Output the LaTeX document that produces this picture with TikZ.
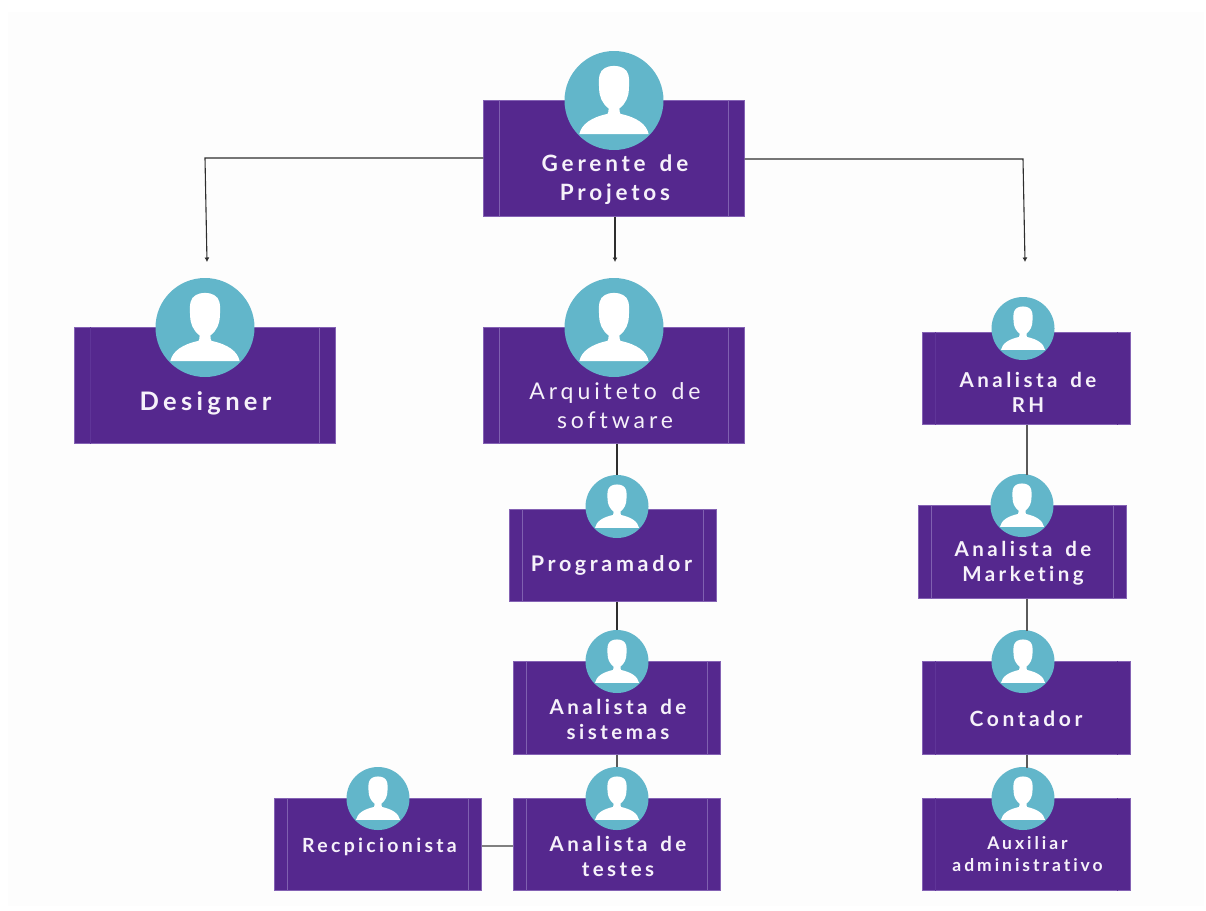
\documentclass[tikz,border=0pt]{standalone}
\usepackage{fontspec}
\usetikzlibrary{arrows.meta,calc}
\newfontfamily\lato[LetterSpace=17,WordSpace=1.5,Ligatures=NoCommon]{Lato}
\definecolor{cardfill}{HTML}{55288E}
\definecolor{cardline}{HTML}{8462B4}
\definecolor{stripeA}{HTML}{8060B0}
\definecolor{stripeB}{HTML}{5F3598}
\definecolor{disc}{HTML}{62B6CA}
\definecolor{page}{HTML}{FDFDFD}
\definecolor{label}{HTML}{F6F1FA}
\definecolor{wire}{HTML}{2E2E2E}
\definecolor{wiresoft}{HTML}{5A5A5A}
\tikzset{
  x=1pt,y=-1pt,
  cardbox/.style={draw=cardline,line width=0.7pt,fill=cardfill,inner sep=0pt,outer sep=0pt,rectangle},
  discnode/.style={fill=disc,circle,inner sep=0pt,outer sep=0pt},
  cardtext/.style={text=label,align=center,inner sep=0pt},
  wirearrow/.style={wire,line width=1.1pt,-{Latex[length=4.5pt,width=5pt]}},
  wirelink/.style={wiresoft,line width=1.4pt},
}
% \card{name}{x1}{y1}{x2}{y2}{discx}{discy}{r}{inset}; stripes coloured by \stripeleft and \striperight
\newcommand{\stripeleft}{stripeA}
\newcommand{\striperight}{stripeA}
\newcommand{\card}[9]{%
  \pgfmathsetmacro{\cw}{#4-#2-0.7}\pgfmathsetmacro{\ch}{#5-#3-0.7}%
  \node[cardbox,minimum width=\cw pt,minimum height=\ch pt] (#1) at ({(#2+#4)/2},{(#3+#5)/2}) {};
  \draw[\stripeleft,line width=0.6pt] ($(#1.north west)+(#9,0)$) -- ($(#1.south west)+(#9,0)$);
  \draw[\striperight,line width=0.6pt] ($(#1.north east)+(-#9,0)$) -- ($(#1.south east)+(-#9,0)$);
  \pgfmathsetmacro{\dd}{2*#8}%
  \node[discnode,minimum size=\dd pt] (#1disc) at (#6,#7) {};
  \begin{scope}[shift={(#6,#7)},x=#8pt,y=-#8pt]
    \fill[white] (-0.70,0.68) .. controls (-0.66,0.48) and (-0.46,0.34) .. (-0.13,0.27)
      .. controls (-0.11,0.25) and (-0.11,0.20) .. (-0.11,0.16)
      .. controls (-0.24,0.06) and (-0.30,-0.08) .. (-0.30,-0.24)
      .. controls (-0.31,-0.36) and (-0.31,-0.44) .. (-0.29,-0.52)
      .. controls (-0.26,-0.64) and (-0.14,-0.70) .. (0,-0.70)
      .. controls (0.14,-0.70) and (0.26,-0.64) .. (0.29,-0.52)
      .. controls (0.31,-0.44) and (0.31,-0.36) .. (0.30,-0.24)
      .. controls (0.30,-0.08) and (0.24,0.06) .. (0.11,0.16)
      .. controls (0.11,0.20) and (0.11,0.25) .. (0.13,0.27)
      .. controls (0.46,0.34) and (0.66,0.48) .. (0.70,0.68) -- cycle;
  \end{scope}
}
\begin{document}
\begin{tikzpicture}
\useasboundingbox (0,0) rectangle (1206,910);
\fill[white] (0,0) rectangle (1206,910);
\fill[page] (8,12) rectangle (1204,906);

\coordinate (railC) at (617,0);
\coordinate (railR) at (1027,0);
\coordinate (elbowL) at (205,158);
\coordinate (endL) at (207,262);
\coordinate (elbowR) at (1023,159);
\coordinate (endR) at (1025,262);
\coordinate (endC) at (615,262);
\coordinate (linkY) at (0,846);

\card{gerente}{483}{100}{745}{217}{614}{100.5}{49.5}{16}
\renewcommand{\stripeleft}{stripeB}
\card{designer}{74}{327}{336}{444}{205}{327.5}{49.5}{16}
\renewcommand{\stripeleft}{stripeA}
\card{arquiteto}{483}{327}{745}{444}{614}{327.5}{49.5}{16}
\renewcommand{\stripeleft}{stripeB}\renewcommand{\striperight}{cardfill}
\card{rh}{922}{332}{1131}{425}{1023}{328.5}{31.5}{13}
\renewcommand{\stripeleft}{stripeA}\renewcommand{\striperight}{stripeA}
\card{marketing}{918}{505}{1127}{599}{1022}{505.5}{31.5}{13}
\renewcommand{\stripeleft}{stripeB}\renewcommand{\striperight}{cardfill}
\card{contador}{922}{661}{1131}{755}{1023}{661.5}{31.5}{13}
\card{auxiliar}{922}{798}{1131}{891}{1023}{798.5}{31.5}{13}
\renewcommand{\stripeleft}{stripeA}\renewcommand{\striperight}{stripeA}
\card{programador}{509}{509}{717}{602}{617}{506.5}{31.5}{13}
\card{sistemas}{513}{661}{721}{755}{617}{661.5}{31.5}{13}
\card{testes}{513}{798}{721}{891}{617}{798.5}{31.5}{13}
\card{recep}{274}{798}{482}{891}{378}{798.5}{31.5}{13}

\node[cardtext,font=\lato\bfseries\fontsize{22.5}{29}\selectfont] (tgerente) at (615,180) {Gerente de\\Projetos};
\node[cardtext,font=\lato\bfseries\fontsize{25.5}{30}\selectfont] (tdesigner) at (205.5,403) {Designer};
\node[cardtext,font=\lato\fontsize{23}{29}\selectfont] (tarquiteto) at (615,406) {Arquiteto de\\software};
\node[cardtext,font=\lato\bfseries\fontsize{20.5}{25}\selectfont] (trh) at (1028,392) {Analista de\\RH};
\node[cardtext,font=\lato\bfseries\fontsize{20.5}{25}\selectfont] (tmarketing) at (1023,563) {Analista de\\Marketing};
\node[cardtext,font=\lato\bfseries\fontsize{21}{25}\selectfont] (tcontador) at (1026,719) {Contador};
\node[cardtext,font=\lato\bfseries\fontsize{17.5}{22}\selectfont] (tauxiliar) at (1027.5,854) {Auxiliar\\administrativo};
\node[cardtext,font=\lato\bfseries\fontsize{21.5}{25}\selectfont] (tprogramador) at (611.5,565) {Programador};
\node[cardtext,font=\lato\bfseries\fontsize{20.5}{25}\selectfont] (tsistemas) at (618,719) {Analista de\\sistemas};
\node[cardtext,font=\lato\bfseries\fontsize{20.5}{25}\selectfont] (ttestes) at (618,856) {Analista de\\testes};
\node[cardtext,font=\lato\bfseries\fontsize{19.5}{25}\selectfont] (trecep) at (379.5,847) {Recpicionista};

\draw[wirearrow] (gerente.west |- elbowL) -- (elbowL) -- (endL);
\draw[wirearrow] (gerente.east |- elbowR) -- (elbowR) -- (endR);
\draw[wirearrow] (gerente.south -| endC) -- (endC);
\draw[wire,line width=1.3pt] (arquiteto.south -| railC) -- (programadordisc.north);
\draw[wire,line width=1.3pt] (programador.south -| railC) -- (sistemasdisc.north);
\draw[wirelink] (sistemas.south -| railC) -- (testesdisc.north);
\draw[wirelink,draw=gray] (recep.east |- linkY) -- (testes.west |- linkY);
\draw[wirelink] (rh.south -| railR) -- ([yshift=-1pt]railR |- marketingdisc.north);
\draw[wirelink] (marketing.south -| railR) -- ([yshift=-1pt]railR |- contadordisc.north);
\draw[wirelink] (contador.south -| railR) -- ([yshift=-1pt]railR |- auxiliardisc.north);
\end{tikzpicture}
\end{document}
